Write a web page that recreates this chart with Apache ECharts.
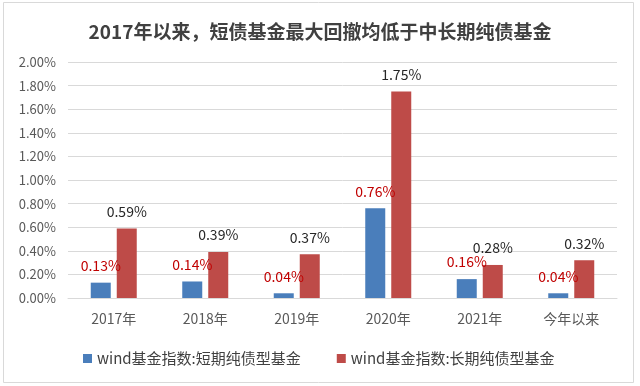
<!DOCTYPE html>
<html><head><meta charset="utf-8">
<script src="https://cdn.jsdelivr.net/npm/echarts@6/dist/echarts.min.js"></script>
<style>html,body{margin:0;padding:0;background:#fff}#c{width:640px;height:386px}</style>
</head><body><div id="c"></div>
<script>
const categories = ['2017年','2018年','2019年','2020年','2021年','今年以来'];
const shortBond = [0.13,0.14,0.04,0.76,0.16,0.04];
const longBond = [0.59,0.39,0.37,1.75,0.28,0.32];
const seriesNames = ['wind基金指数:短期纯债型基金','wind基金指数:长期纯债型基金'];
const titleText = '2017年以来，短债基金最大回撤均低于中长期纯债基金';
const FONT = '"Noto Sans CJK SC", "Noto Sans", sans-serif';

const chart = echarts.init(document.getElementById('c'), null, {renderer:'canvas'});
chart.setOption({
  animation:false,
  backgroundColor:'#fff',
  textStyle:{fontFamily:FONT},
  graphic:[{type:'rect', shape:{x:3.5,y:2.5,width:630,height:380}, style:{fill:'none',stroke:'#d9d9d9',lineWidth:1}}],
  title:{text:titleText,left:'center',top:17,textStyle:{fontFamily:FONT,fontSize:19,fontWeight:'bold',color:'#404040'}},
  legend:{left:78,top:346,itemWidth:9,itemHeight:9,itemGap:36,icon:'rect',
    textStyle:{fontFamily:FONT,fontSize:15,color:'#404040'},data:seriesNames},
  grid:{left:68,right:23,top:62,bottom:88},
  xAxis:{type:'category',data:categories,
    axisLine:{lineStyle:{color:'#d9d9d9'}},axisTick:{show:false},
    axisLabel:{fontFamily:FONT,fontSize:14,color:'#595959',margin:14}},
  yAxis:{type:'value',min:0,max:2,interval:0.2,
    axisLine:{show:false},axisTick:{show:false},
    splitLine:{lineStyle:{color:'#d9d9d9'}},
    axisLabel:{fontFamily:FONT,fontSize:13,color:'#595959',margin:12,formatter:v=>v.toFixed(2)+'%'}},
  series:[
    {name:seriesNames[0],type:'bar',data:shortBond,barWidth:20,barGap:'30%',
     itemStyle:{color:'#4a7ebb'},
     label:{show:true,position:'top',distance:10,color:'#c00000',fontSize:14,fontFamily:FONT,formatter:p=>p.value.toFixed(2)+'%'}},
    {name:seriesNames[1],type:'bar',data:longBond,barWidth:20,
     itemStyle:{color:'#be4b48'},
     label:{show:true,position:'top',distance:10,color:'#262626',fontSize:14,fontFamily:FONT,formatter:p=>p.value.toFixed(2)+'%'}}
  ]
});
</script></body></html>
